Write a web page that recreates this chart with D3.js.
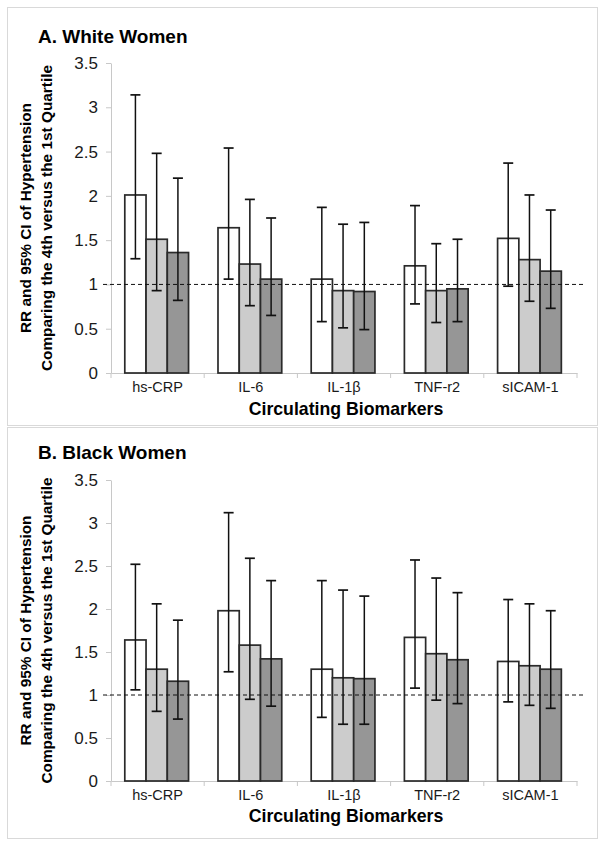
<!DOCTYPE html>
<html>
<head>
<meta charset="utf-8">
<script src="https://cdn.jsdelivr.net/npm/d3@7"></script>
<style>
  body { margin: 0; background: #fff; }
  svg { font-family: "Liberation Sans", Arial, sans-serif; }
</style>
</head>
<body>
<div id="chart"></div>
<script>
// categories and three models per biomarker (white, light grey, dark grey bars)
const categories = ["hs-CRP", "IL-6", "IL-1β", "TNF-r2", "sICAM-1"];
const models = ["m1", "m2", "m3"];
const yTicks = [0, 0.5, 1, 1.5, 2, 2.5, 3, 3.5];

// A. White Women : RR, lower and upper 95% CI
const whiteRR    = [[2.01, 1.51, 1.36], [1.64, 1.23, 1.06], [1.06, 0.93, 0.92], [1.21, 0.93, 0.95], [1.52, 1.28, 1.15]];
const whiteLower = [[1.29, 0.93, 0.82], [1.06, 0.76, 0.65], [0.58, 0.51, 0.49], [0.78, 0.57, 0.58], [0.98, 0.81, 0.73]];
const whiteUpper = [[3.14, 2.48, 2.20], [2.54, 1.96, 1.75], [1.87, 1.68, 1.70], [1.89, 1.46, 1.51], [2.37, 2.01, 1.84]];

// B. Black Women
const blackRR    = [[1.64, 1.30, 1.16], [1.98, 1.58, 1.42], [1.30, 1.20, 1.19], [1.67, 1.48, 1.41], [1.39, 1.34, 1.30]];
const blackLower = [[1.06, 0.81, 0.72], [1.27, 0.95, 0.87], [0.74, 0.66, 0.66], [1.08, 0.94, 0.90], [0.92, 0.88, 0.845]];
const blackUpper = [[2.52, 2.06, 1.87], [3.12, 2.59, 2.33], [2.33, 2.22, 2.15], [2.57, 2.36, 2.19], [2.11, 2.06, 1.98]];

const fills = ["#ffffff", "#cccccc", "#969696"];

const svg = d3.select("#chart").append("svg")
  .attr("width", 605).attr("height", 847);

const panels = [
  { title: "A. White Women", rr: whiteRR, lo: whiteLower, hi: whiteUpper,
    boxTop: 7.5, boxBottom: 425.5, titleY: 43, y0: 373, y1: 63, labelPad: 9, xTitleY: 415 },
  { title: "B. Black Women", rr: blackRR, lo: blackLower, hi: blackUpper,
    boxTop: 427.5, boxBottom: 838.5, titleY: 459, y0: 781, y1: 480, labelPad: 8.5, xTitleY: 821.5 }
];

const plotLeft = 111, plotRight = 577;

panels.forEach(drawPanel);

function drawPanel(p) {
  let g = svg.append("g");

  // frame
  g.append("rect")
    .attr("x", 7.5).attr("y", p.boxTop)
    .attr("width", 590).attr("height", p.boxBottom - p.boxTop)
    .attr("fill", "none").attr("stroke", "#d9d9d9").attr("stroke-width", 1);

  g.append("text")
    .attr("x", 38).attr("y", p.titleY)
    .attr("font-size", 19).attr("font-weight", "bold")
    .text(p.title);

  let x = d3.scaleBand().domain(categories).range([plotLeft, plotRight]);
  let bw = x.bandwidth();
  let xm = d3.scaleBand().domain(models).range([bw * 0.148, bw * 0.832]);
  let y = d3.scaleLinear().domain([0, 3.5]).range([p.y0, p.y1]);

  // y axis
  let yAxis = g.append("g")
    .attr("transform", `translate(${plotLeft},0)`)
    .call(d3.axisLeft(y).tickValues(yTicks).tickFormat(d => String(d)).tickSize(5).tickSizeOuter(0).tickPadding(8));
  yAxis.select(".domain").attr("stroke", "#c8c8c8");
  yAxis.selectAll(".tick line").attr("stroke", "#c8c8c8");
  yAxis.selectAll(".tick text").attr("font-size", 17).attr("fill", "#1a1a1a")
    .attr("font-family", "'Liberation Sans', Arial, sans-serif");

  // x axis
  let xAxis = g.append("g")
    .attr("transform", `translate(0,${p.y0})`)
    .call(d3.axisBottom(x).tickSize(0).tickSizeOuter(0).tickPadding(p.labelPad));
  xAxis.select(".domain").attr("stroke", "#c8c8c8");
  xAxis.selectAll(".tick text").attr("font-size", 14.5).attr("fill", "#1a1a1a")
    .attr("font-family", "'Liberation Sans', Arial, sans-serif");
  let seps = categories.map(c => x(c)).concat([plotRight]);
  xAxis.selectAll(".sep").data(seps).enter().append("line")
    .attr("x1", d => d).attr("x2", d => d)
    .attr("y1", 0).attr("y2", 5)
    .attr("stroke", "#c8c8c8");

  // bars
  let groups = g.selectAll(".grp").data(categories).enter().append("g")
    .attr("transform", c => `translate(${x(c)},0)`);

  groups.each(function(c, ci) {
    let grp = d3.select(this);
    models.forEach(function(m, mi) {
      let v = p.rr[ci][mi];
      grp.append("rect")
        .attr("x", xm(m)).attr("y", y(v))
        .attr("width", xm.bandwidth()).attr("height", y(0) - y(v))
        .attr("fill", fills[mi]).attr("stroke", "#2a2a2a").attr("stroke-width", 1.7);
    });
  });

  // reference line at RR = 1
  g.append("line")
    .attr("x1", plotLeft - 8).attr("x2", plotRight + 6)
    .attr("y1", y(1)).attr("y2", y(1))
    .attr("stroke", "#111").attr("stroke-width", 1).attr("stroke-dasharray", "4,3");

  // error bars
  groups.each(function(c, ci) {
    let grp = d3.select(this);
    models.forEach(function(m, mi) {
      let cx = xm(m) + xm.bandwidth() / 2;
      let lo = y(p.lo[ci][mi]), hi = y(p.hi[ci][mi]);
      grp.append("line").attr("x1", cx).attr("x2", cx).attr("y1", lo).attr("y2", hi)
        .attr("stroke", "#111").attr("stroke-width", 1.5);
      [lo, hi].forEach(function(yy) {
        grp.append("line").attr("x1", cx - 5).attr("x2", cx + 5).attr("y1", yy).attr("y2", yy)
          .attr("stroke", "#111").attr("stroke-width", 1.7);
      });
    });
  });

  // axis titles
  let cy = (p.y0 + p.y1) / 2;
  g.append("text")
    .attr("transform", `translate(31,${cy}) rotate(-90)`)
    .attr("text-anchor", "middle").attr("font-size", 15.4).attr("font-weight", "bold")
    .text("RR and 95% CI of Hypertension");
  g.append("text")
    .attr("transform", `translate(52,${cy}) rotate(-90)`)
    .attr("text-anchor", "middle").attr("font-size", 15.4).attr("font-weight", "bold")
    .text("Comparing the 4th versus the 1st Quartile");

  g.append("text")
    .attr("x", (plotLeft + plotRight) / 2 + 2).attr("y", p.xTitleY)
    .attr("text-anchor", "middle").attr("font-size", 17.7).attr("font-weight", "bold")
    .text("Circulating Biomarkers");
}
</script>
</body>
</html>
